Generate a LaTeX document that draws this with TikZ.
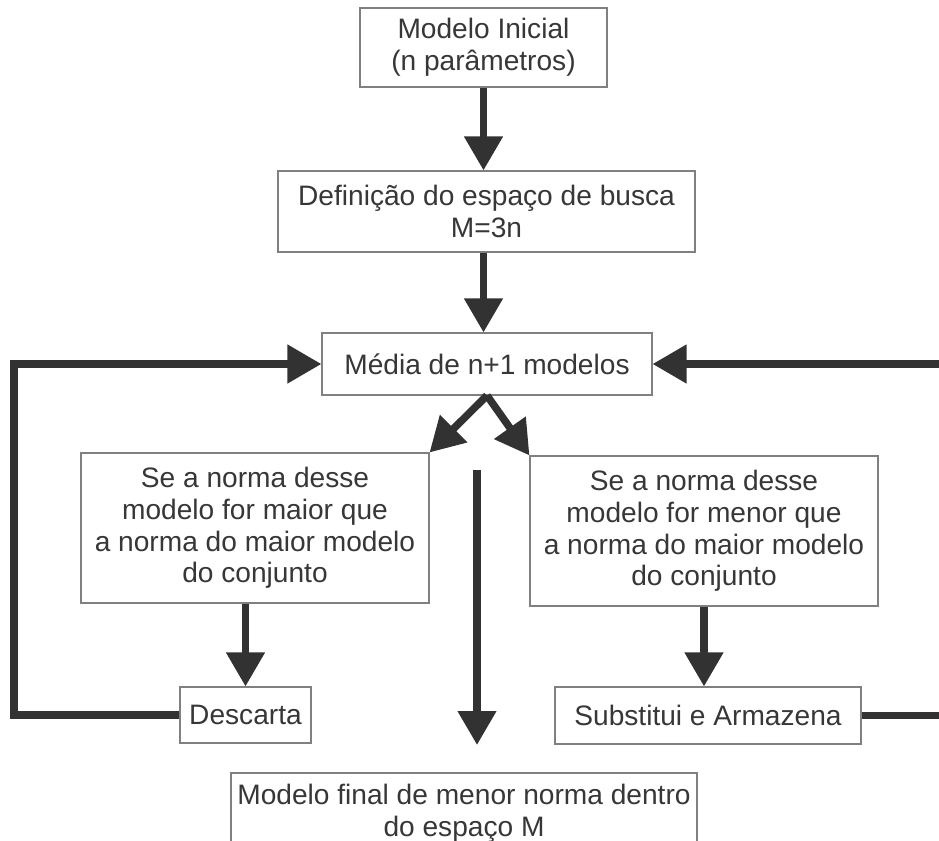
\documentclass[tikz,border=0pt]{standalone}
\usepackage{fontspec}
\setmainfont{Liberation Sans}
\definecolor{boxgray}{RGB}{128, 128, 128}
\definecolor{textgray}{RGB}{55, 55, 55}
\definecolor{arrowgray}{RGB}{50, 50, 50}
\usetikzlibrary{arrows.meta, positioning, calc}

\begin{document}
\begin{tikzpicture}[
    caixa/.style={draw=boxgray, line width=0.6pt, fill=white, align=center, text=textgray, inner sep=0pt, font=\fontsize{16}{18}\selectfont},
    seta/.style={draw=arrowgray, line width=0.15cm, -{Triangle[length=0.68cm, width=0.74cm]}},
    linha/.style={draw=arrowgray, line width=0.15cm}
  ]
  \useasboundingbox (0,0) rectangle (18.78,-16.82);

  % Main column
  \node[caixa, minimum width=4.94cm, minimum height=1.58cm] (ini) at (9.67, -0.95) {Modelo Inicial\\(n parâmetros)};
  \node[caixa, minimum width=8.34cm, minimum height=1.62cm] (busca) at (9.73, -4.23) {Definição do espaço de busca\\M=3n};
  \node[caixa, minimum width=6.6cm, minimum height=1.24cm] (media) at (9.74, -7.28) {Média de n+1 modelos};

  % Two tests
  \node[caixa, minimum width=6.96cm, minimum height=3cm] (maior) at (5.10, -10.56) {Se a norma desse\\modelo for maior que\\a norma do maior modelo\\do conjunto};
  \node[caixa, minimum width=6.96cm, minimum height=3cm] (menor) at (14.08, -10.62) {Se a norma desse\\modelo for menor que\\a norma do maior modelo\\do conjunto};

  % Outcomes
  \node[caixa, minimum width=2.62cm, minimum height=1.12cm] (descarta) at (4.91, -14.30) {Descarta};
  \node[caixa, minimum width=6.12cm, minimum height=1.14cm] (subst) at (14.16, -14.31) {Substitui e Armazena};
  \node[caixa, minimum width=9.32cm, minimum height=1.62cm] (final) at (9.28, -16.27) {Modelo final de menor norma dentro\\do espaço M};

  \coordinate (mtop) at (9.54, -9.40);
  \coordinate (mbot) at (9.54, -14.90);
  \coordinate (esq) at (0.28, -14.30);
  \coordinate (dir) at (19.40, -14.31);

  % Connectors
  \draw[seta] (ini.south) -- (ini.south |- busca.north);
  \draw[seta] (ini.south |- busca.south) -- (ini.south |- media.north);
  \draw[seta] (media.south) -- (maior.north east);
  \draw[seta] (media.south) -- (menor.north west);
  \draw[seta] (mtop) -- (mbot);
  \draw[seta] (descarta.north |- maior.south) -- (descarta.north);
  \draw[seta] (menor.south) -- (menor.south |- subst.north);
  \draw[seta] (descarta.west) -- (esq) |- (media.west);
  \draw[seta] (subst.east) -- (dir) |- (media.east);
\end{tikzpicture}
\end{document}
